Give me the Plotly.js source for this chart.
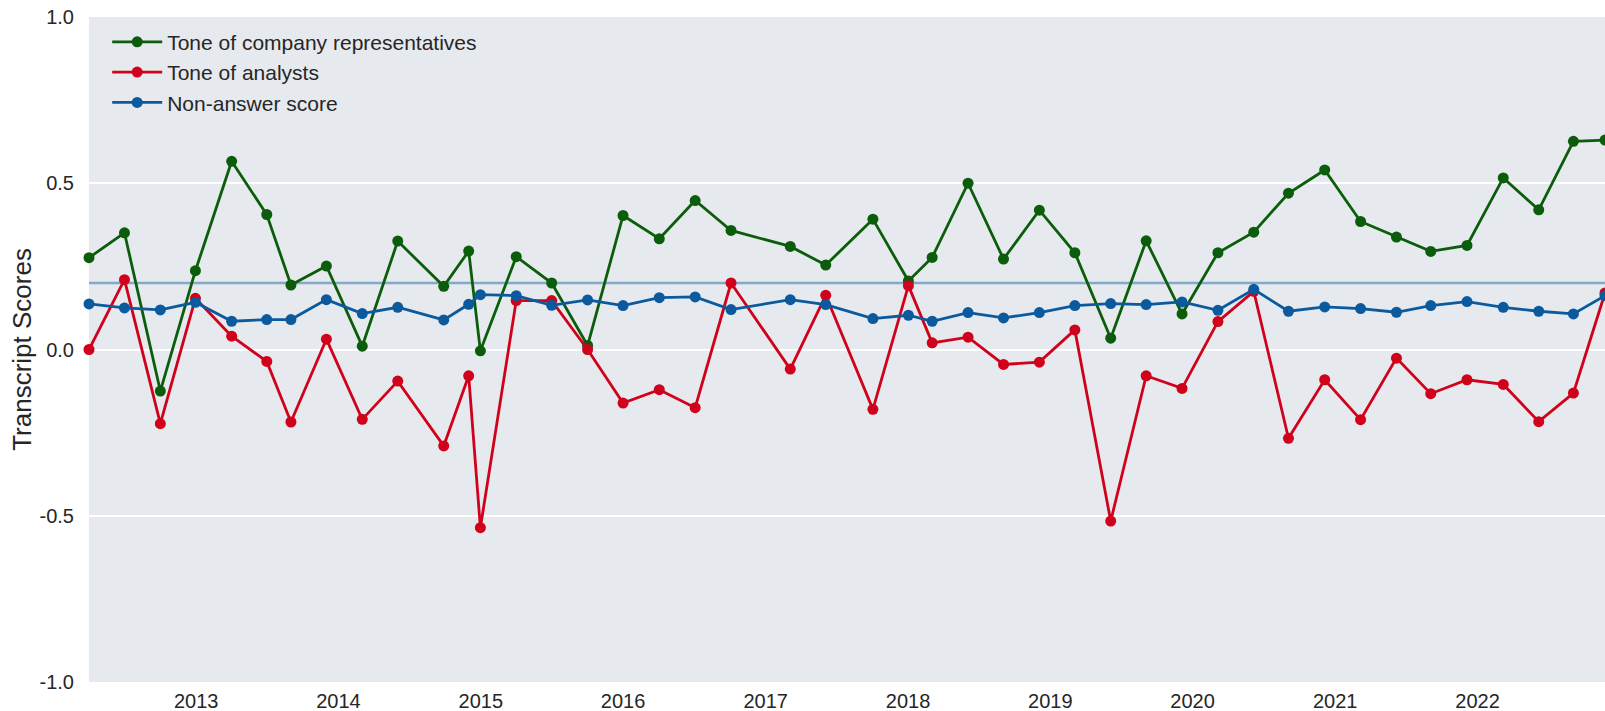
<!DOCTYPE html>
<html>
<head>
<meta charset="utf-8">
<script src="https://cdn.plot.ly/plotly-3.0.1.min.js"></script>
<style>
  html, body { margin: 0; padding: 0; background: #fff; }
  #chart { width: 1605px; height: 711px; }
</style>
</head>
<body>
<div id="chart"></div>
<script>
// call dates
var callDates = [
    '2012-04-01', '2012-07-01', '2012-10-01', '2012-12-30', '2013-04-02', '2013-07-01',
    '2013-09-01', '2013-12-01', '2014-03-03', '2014-06-02', '2014-09-28', '2014-12-01',
    '2014-12-31', '2015-04-02', '2015-07-02', '2015-10-02', '2016-01-01', '2016-04-03',
    '2016-07-04', '2016-10-04', '2017-03-05', '2017-06-04', '2017-10-03', '2018-01-02',
    '2018-03-04', '2018-06-04', '2018-09-03', '2018-12-04', '2019-03-05', '2019-06-05',
    '2019-09-04', '2019-12-05', '2020-03-06', '2020-06-06', '2020-09-03', '2020-12-05',
    '2021-03-07', '2021-06-07', '2021-09-03', '2021-12-05', '2022-03-08', '2022-06-07',
    '2022-09-04', '2022-11-24'
];

var toneCompany = [
    0.276, 0.351, -0.125, 0.237, 0.566, 0.406, 0.194, 0.251, 0.010, 0.326, 0.190, 0.296,
    -0.004, 0.279, 0.200, 0.012, 0.403, 0.333, 0.448, 0.358, 0.310, 0.254, 0.392, 0.206,
    0.277, 0.500, 0.272, 0.419, 0.291, 0.034, 0.327, 0.107, 0.291, 0.353, 0.470, 0.540,
    0.385, 0.338, 0.295, 0.313, 0.516, 0.420, 0.626, 0.630
];

var toneAnalysts = [
    0.000, 0.210, -0.223, 0.154, 0.040, -0.036, -0.218, 0.031, -0.210, -0.095, -0.290, -0.079,
    -0.536, 0.147, 0.147, 0.000, -0.161, -0.121, -0.175, 0.200, -0.059, 0.163, -0.180, 0.192,
    0.020, 0.037, -0.045, -0.038, 0.059, -0.516, -0.079, -0.117, 0.084, 0.175, -0.267, -0.091,
    -0.211, -0.026, -0.133, -0.091, -0.105, -0.217, -0.131, 0.170
];

var nonAnswer = [
    0.137, 0.125, 0.119, 0.142, 0.085, 0.090, 0.090, 0.150, 0.108, 0.127, 0.089, 0.136,
    0.165, 0.162, 0.133, 0.149, 0.132, 0.156, 0.158, 0.120, 0.150, 0.135, 0.093, 0.103,
    0.085, 0.111, 0.095, 0.111, 0.132, 0.138, 0.135, 0.143, 0.118, 0.181, 0.115, 0.128,
    0.123, 0.112, 0.132, 0.144, 0.127, 0.115, 0.107, 0.162
];

var refLevel = 0.2;
var yearTicks = ['2013-01-01', '2014-01-01', '2015-01-01', '2016-01-01', '2017-01-01',
    '2018-01-01', '2019-01-01', '2020-01-01', '2021-01-01', '2022-01-01'];
var yTicks = [-1, -0.5, 0, 0.5, 1];
var yTickText = ['-1.0', '-0.5', '0.0', '0.5', '1.0'];

var font = 'Liberation Sans, Arial, sans-serif';
var textColor = '#262626';

function series(y, name, color) {
    return {
        x: callDates,
        y: y,
        name: name,
        type: 'scatter',
        mode: 'lines+markers',
        line: { color: color, width: 2.8 },
        marker: { color: color, size: 11 },
        cliponaxis: false
    };
}

var refLine = {
    x: [callDates[0], callDates[callDates.length - 1]],
    y: [refLevel, refLevel],
    type: 'scatter',
    mode: 'lines',
    line: { color: 'rgba(11,90,158,0.45)', width: 2.5 },
    showlegend: false,
    hoverinfo: 'skip'
};

var data = [
    refLine,
    series(toneCompany, 'Tone of company representatives', '#0b5d0b'),
    series(toneAnalysts, 'Tone of analysts', '#d0021b'),
    series(nonAnswer, 'Non-answer score', '#0b5a9e')
];

var layout = {
    width: 1605,
    height: 711,
    margin: { l: 89, r: 0, t: 17, b: 29 },
    paper_bgcolor: '#ffffff',
    plot_bgcolor: '#e6e9ed',
    font: { family: font, size: 20, color: textColor },
    showlegend: true,
    legend: {
        x: 0.012, y: 0.993, xanchor: 'left', yanchor: 'top',
        bgcolor: 'rgba(0,0,0,0)',
        itemwidth: 50,
        font: { family: font, size: 21, color: textColor },
        tracegroupgap: 0
    },
    xaxis: {
        type: 'date',
        range: [callDates[0], callDates[callDates.length - 1]],
        tickmode: 'array',
        tickvals: yearTicks,
        tickformat: '%Y',
        showgrid: false,
        zeroline: false,
        showline: false,
        ticks: 'outside',
        ticklen: 1,
        tickcolor: 'rgba(0,0,0,0)',
        tickfont: { size: 20 }
    },
    yaxis: {
        range: [-1, 1],
        tickmode: 'array',
        tickvals: yTicks,
        ticktext: yTickText,
        showgrid: true,
        gridcolor: '#ffffff',
        gridwidth: 2,
        zeroline: true,
        zerolinecolor: '#ffffff',
        zerolinewidth: 2,
        showline: false,
        ticks: 'outside',
        ticklen: 10,
        tickcolor: 'rgba(0,0,0,0)',
        tickfont: { size: 20 },
        title: { text: 'Transcript Scores', font: { size: 26, color: textColor }, standoff: 0 }
    }
};

Plotly.newPlot('chart', data, layout, { displayModeBar: false });
</script>
</body>
</html>
